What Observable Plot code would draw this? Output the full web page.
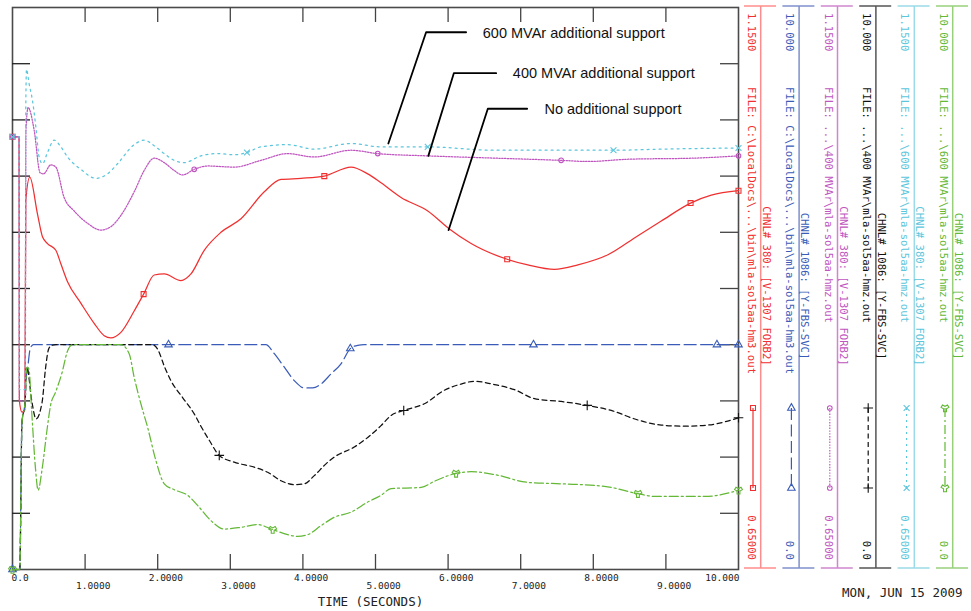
<!DOCTYPE html>
<html><head><meta charset="utf-8">
<script src="https://cdn.jsdelivr.net/npm/d3@7"></script>
<script src="https://cdn.jsdelivr.net/npm/@observablehq/plot@0.6"></script>
<style>body{margin:0;background:#fff}svg{display:block}</style>
</head><body><div id="chart"></div>
<script>
// ---------- DATA (time in seconds, voltage in pu, SVC output on 0..10 scale) ----------
const noSupportVoltage = [[0,1.035],[0.09,1.035],[0.095,0.80],[0.13,0.79],[0.17,0.792],[0.183,0.978],[0.238,0.999],[0.345,0.966],[0.413,0.946],[0.482,0.940],[0.597,0.934],[0.666,0.922],[0.758,0.906],[0.941,0.887],[1.125,0.869],[1.263,0.858],[1.355,0.856],[1.493,0.861],[1.676,0.880],[1.806,0.895],[1.952,0.912],[2.090,0.913],[2.320,0.907],[2.458,0.913],[2.641,0.934],[2.871,0.950],[3.147,0.962],[3.468,0.986],[3.698,0.997],[3.974,0.998],[4.295,1.000],[4.663,1.008],[4.893,1.002],[5.076,0.994],[5.352,0.981],[5.720,0.969],[6.018,0.953],[6.317,0.940],[6.814,0.926],[7.099,0.921],[7.465,0.917],[7.788,0.921],[8.201,0.930],[8.615,0.947],[8.936,0.960],[9.340,0.976],[9.625,0.983],[10,0.987]];
const mvar400Voltage = [[0,1.035],[0.09,1.035],[0.095,0.80],[0.175,0.80],[0.185,1.04],[0.215,1.061],[0.298,1.041],[0.380,1.003],[0.427,1.002],[0.528,1.010],[0.597,1.008],[0.711,0.981],[0.849,0.969],[1.034,0.958],[1.217,0.952],[1.355,0.955],[1.493,0.965],[1.676,0.986],[1.814,1.005],[1.952,1.016],[2.090,1.012],[2.227,1.005],[2.343,1.001],[2.503,1.006],[2.688,1.009],[3.054,1.008],[3.422,1.014],[3.790,1.020],[4.157,1.017],[4.663,1.023],[5.031,1.020],[5.720,1.018],[6.638,1.016],[7.557,1.014],[7.925,1.013],[8.477,1.015],[9.395,1.016],[10,1.018]];
const mvar600Voltage = [[0,1.035],[0.09,1.035],[0.095,0.81],[0.175,0.81],[0.183,1.06],[0.193,1.095],[0.229,1.082],[0.276,1.067],[0.321,1.044],[0.367,1.017],[0.414,1.011],[0.482,1.021],[0.573,1.032],[0.666,1.026],[0.758,1.017],[0.941,1.006],[1.148,0.998],[1.309,1.002],[1.447,1.011],[1.676,1.028],[1.814,1.032],[1.952,1.027],[2.090,1.020],[2.227,1.014],[2.365,1.012],[2.595,1.018],[2.826,1.020],[3.054,1.019],[3.229,1.021],[3.422,1.026],[3.790,1.028],[4.157,1.024],[4.663,1.029],[5.076,1.026],[5.720,1.026],[6.638,1.023],[7.327,1.023],[8.278,1.023],[8.936,1.024],[10,1.025]];
const noSupportSvc = [[0,0],[0.1,0],[0.13,2.6],[0.175,3.0],[0.185,3.4],[0.2,3.5],[0.248,3.95],[0.29,4.0],[3.49,4.0],[3.606,3.84],[3.744,3.60],[3.882,3.36],[4.019,3.23],[4.135,3.23],[4.249,3.30],[4.387,3.48],[4.525,3.66],[4.653,3.93],[4.755,3.99],[4.846,4.0],[10,4.0]];
const mvar400Svc = [[0,0],[0.1,0],[0.13,2.6],[0.175,3.0],[0.19,3.55],[0.2,3.6],[0.265,3.0],[0.325,2.68],[0.408,2.98],[0.455,3.58],[0.50,3.93],[0.546,3.99],[0.6,4.0],[1.93,4.0],[2.0,3.92],[2.09,3.62],[2.182,3.36],[2.343,3.06],[2.503,2.77],[2.595,2.55],[2.710,2.30],[2.848,2.03],[3.054,1.91],[3.330,1.82],[3.515,1.73],[3.698,1.58],[3.882,1.51],[4.019,1.525],[4.157,1.67],[4.318,1.88],[4.433,2.0],[4.708,2.18],[4.893,2.35],[5.076,2.56],[5.214,2.74],[5.389,2.83],[5.674,2.95],[5.949,3.19],[6.179,3.30],[6.363,3.35],[6.638,3.29],[6.914,3.20],[7.190,3.04],[7.557,2.99],[7.916,2.92],[8.247,2.83],[8.615,2.66],[8.936,2.57],[9.257,2.55],[9.580,2.57],[10,2.70]];
const mvar600Svc = [[0,0],[0.1,0],[0.13,2.6],[0.175,3.0],[0.19,3.5],[0.2,3.6],[0.225,3.57],[0.270,2.69],[0.317,1.79],[0.353,1.41],[0.408,1.79],[0.477,2.50],[0.524,2.92],[0.593,3.155],[0.684,3.51],[0.753,3.87],[0.827,4.0],[1.493,4.0],[1.607,3.84],[1.676,3.42],[1.768,2.95],[1.861,2.53],[1.975,1.94],[2.090,1.525],[2.227,1.42],[2.412,1.32],[2.550,1.14],[2.733,0.87],[2.917,0.72],[3.147,0.75],[3.377,0.80],[3.584,0.71],[3.790,0.62],[3.928,0.59],[4.066,0.62],[4.249,0.78],[4.433,0.93],[4.663,1.02],[4.893,1.20],[5.076,1.32],[5.214,1.44],[5.628,1.46],[5.811,1.57],[6.110,1.71],[6.317,1.74],[6.638,1.69],[7.099,1.55],[7.557,1.525],[8.154,1.48],[8.615,1.35],[8.844,1.30],[9.533,1.30],[10,1.41]];

// marker positions along each trace [time, value]
const noSupportVoltageMarks = [[0,1.035],[1.806,0.895],[4.295,1.000],[6.814,0.926],[9.340,0.976],[10,0.987]];
const mvar400VoltageMarks = [[0,1.035],[2.503,1.006],[5.031,1.020],[7.557,1.014],[10,1.018]];
const mvar600VoltageMarks = [[0,1.035],[3.229,1.021],[5.720,1.026],[8.278,1.023],[10,1.025]];
const noSupportSvcMarks = [[0,0],[2.149,4.0],[4.653,3.93],[7.176,4.0],[9.703,4.0],[10,4.0]];
const mvar400SvcMarks = [[2.848,2.03],[5.389,2.83],[7.916,2.92],[10,2.70]];
const mvar600SvcMarks = [[0,0],[3.584,0.71],[6.110,1.71],[8.615,1.35],[10,1.41]];

// axis ticks and labels
const xTickValues = [0,1,2,3,4,5,6,7,8,9,10];
const xTickLabels = ["0.0","1.0000","2.0000","3.0000","4.0000","5.0000","6.0000","7.0000","8.0000","9.0000","10.000"];
const voltTickValues = [0.70,0.75,0.80,0.85,0.90,0.95,1.00,1.05,1.10];

// legend column texts
const legendTop = ["1.1500","10.000","1.1500","10.000","1.1500","10.000"];
const legendBottom = ["0.65000","0.0","0.65000","0.0","0.65000","0.0"];
const legendFile = [
  "FILE: C:\\LocalDocs\\...\\bin\\mla-sol5aa-hm3.out",
  "FILE: C:\\LocalDocs\\...\\bin\\mla-sol5aa-hm3.out",
  "FILE: ...\\400 MVAr\\mla-sol5aa-hmz.out",
  "FILE: ...\\400 MVAr\\mla-sol5aa-hmz.out",
  "FILE: ...\\600 MVAr\\mla-sol5aa-hmz.out",
  "FILE: ...\\600 MVAr\\mla-sol5aa-hmz.out"];
const legendChannel = [
  "CHNL# 380: [V-1307 FORB2]",
  "CHNL# 1086: [Y-FBS-SVC]",
  "CHNL# 380: [V-1307 FORB2]",
  "CHNL# 1086: [Y-FBS-SVC]",
  "CHNL# 380: [V-1307 FORB2]",
  "CHNL# 1086: [Y-FBS-SVC]"];

// annotations: label position (time, value), leader polyline points (time, value)
const annotationLabels = ["600 MVAr additional support","400 MVAr additional support","No additional support"];
const annotationTextPos = [[6.478,1.127],[6.892,1.091],[7.327,1.059]];
const annotationLeaders = [
  [[6.248,1.128],[5.697,1.128],[5.177,1.029]],
  [[6.662,1.0916],[6.079,1.0916],[5.728,1.018]],
  [[7.089,1.0599],[6.547,1.0599],[6.007,0.952]]];

const timeLabel = "TIME (SECONDS)";
const dateLabel = "MON, JUN 15 2009";

// ---------- STYLE ----------
const W = 971, H = 611;
const vMin = 0.65, vMax = 1.15, qMax = 10;
const toV = q => vMin + q * (vMax - vMin) / qMax;   // SVC scale 0..10 shares the frame with 0.65..1.15

const series = [
  {data: noSupportVoltage, marks: noSupportVoltageMarks, svc:false, color:"#f03030", light:"#ff8c8c", dash:null, symbol:"square", r:2.8},
  {data: noSupportSvc, marks: noSupportSvcMarks, svc:true, color:"#3a5cb8", light:"#7f90cc", dash:"12,4.5", symbol:"triangle", r:2.8},
  {data: mvar400Voltage, marks: mvar400VoltageMarks, svc:false, color:"#bf55bf", light:"#cf86cf", dash:"1.4,1.4", symbol:"circle", r:2.3},
  {data: mvar400Svc, marks: mvar400SvcMarks, svc:true, color:"#111111", light:"#555555", dash:"5,3.5", symbol:"plus", r:3.2},
  {data: mvar600Voltage, marks: mvar600VoltageMarks, svc:false, color:"#5cc6dc", light:"#9adbe8", dash:"2,4", symbol:"times", r:2.8},
  {data: mvar600Svc, marks: mvar600SvcMarks, svc:true, color:"#63b836", light:"#98d07a", dash:"9,3,2,3", symbol:"wye", r:3}
];
const yOf = s => d => s.svc ? toV(d[1]) : d[1];

const mono = "DejaVu Sans Mono, Liberation Mono, monospace";
const tickLenX = 0.248, tickLenY = 0.01335;

const marks = [
  Plot.frame({stroke:"#4a4a4a", strokeWidth:1.6}),
  Plot.ruleY(voltTickValues, {x1:0, x2:tickLenX, stroke:"#222", strokeWidth:1.3}),
  Plot.ruleY(voltTickValues, {x1:10 - tickLenX, x2:10, stroke:"#444", strokeWidth:1.3}),
  Plot.ruleX(xTickValues.slice(1, -1), {y1:vMin, y2:vMin + tickLenY, stroke:"#444", strokeWidth:1.3}),
  Plot.ruleX(xTickValues.slice(1, -1), {y1:vMax - tickLenY, y2:vMax, stroke:"#444", strokeWidth:1.3})
];
for (const s of series) {
  marks.push(Plot.line(s.data, {x: d => d[0], y: yOf(s), stroke: s.color, strokeWidth: 1.25,
    strokeDasharray: s.dash || undefined, curve: "monotone-x"}));
  marks.push(Plot.dot(s.marks, {x: d => d[0], y: yOf(s), symbol: s.symbol, r: s.r, stroke: s.color,
    fill: "none", strokeWidth: 1.1}));
}
// annotation leaders + labels
annotationLeaders.forEach(pts => {
  marks.push(Plot.line(pts, {x: d => d[0], y: d => d[1], stroke: "#000", strokeWidth: 1.8}));
});
marks.push(Plot.text(annotationLabels, {x: (d,i) => annotationTextPos[i][0], y: (d,i) => annotationTextPos[i][1],
  text: d => d, textAnchor: "start", fontSize: 14.5, fontFamily: "Liberation Sans, Arial, sans-serif", fill: "#111"}));

// x tick labels (two staggered rows, decimal point roughly under the tick)
const xl = xTickValues.map((v, i) => ({v, label: xTickLabels[i], i}));
const tickTextOpts = {x: "v", y: () => vMin, text: "label", fontFamily: mono, fontSize: 9.5, fill: "#222", ariaLabel: "xticklabel"};
marks.push(Plot.text(xl.filter(d => d.i === 0), {...tickTextOpts, textAnchor: "start", dx: -1, dy: 8}));
marks.push(Plot.text(xl.filter(d => d.i > 0 && d.i < 10 && d.i % 2 === 0), {...tickTextOpts, textAnchor: "start", dx: -9, dy: 8}));
marks.push(Plot.text(xl.filter(d => d.i % 2 === 1), {...tickTextOpts, textAnchor: "start", dx: -9, dy: 16.5}));
marks.push(Plot.text(xl.filter(d => d.i === 10), {...tickTextOpts, textAnchor: "end", dx: 1, dy: 8}));
marks.push(Plot.text([timeLabel], {frameAnchor: "bottom", text: d => d, dx: -5, dy: 36, fontFamily: mono, fontSize: 12.5, fill: "#222", ariaLabel: "bigmono"}));
marks.push(Plot.text([dateLabel], {frameAnchor: "bottom-right", text: d => d, textAnchor: "end", dx: 224, dy: 27, fontFamily: mono, fontSize: 12.5, fill: "#222", ariaLabel: "bigmono"}));

const svg = Plot.plot({
  width: W, height: H,
  marginLeft: 12, marginRight: 233, marginTop: 7, marginBottom: 42,
  x: {domain: [0, 10], axis: null},
  y: {domain: [vMin, vMax], axis: null},
  style: {background: "#fff", overflow: "visible"},
  marks
});

const root = d3.select(svg);
root.selectAll('g[aria-label="xticklabel"] text').style("letter-spacing", "1.6px");
root.selectAll('g[aria-label="bigmono"] text').style("letter-spacing", "2.6px");

// ---------- right-hand channel legend ----------
const legendLeft = 744, legendStep = 38.4, legendTopY = 6, legendBottomY = 568;
const lg = root.append("g").attr("font-family", mono).attr("font-size", 10.6);
const symMap = {square: d3.symbolSquare, triangle: d3.symbolTriangle, circle: d3.symbolCircle,
  plus: d3.symbolPlus, times: d3.symbolTimes, wye: d3.symbolWye};
series.forEach((s, i) => {
  const L = legendLeft + i * legendStep;
  const vx = L + 16.7, tx = L + 7.7, cx = L + 22.7, sx = L + 9;
  lg.append("line").attr("x1", L).attr("x2", L + 32).attr("y1", legendTopY).attr("y2", legendTopY)
    .attr("stroke", s.light).attr("stroke-width", 1.5);
  lg.append("line").attr("x1", L).attr("x2", L + 32).attr("y1", legendBottomY).attr("y2", legendBottomY)
    .attr("stroke", s.light).attr("stroke-width", 1.5);
  lg.append("line").attr("x1", vx).attr("x2", vx).attr("y1", legendTopY).attr("y2", legendBottomY)
    .attr("stroke", s.light).attr("stroke-width", 1.5);
  const rot = (x, y, txt, anchor) => lg.append("text").attr("transform", `translate(${x - 3.9},${y}) rotate(90)`)
    .attr("text-anchor", anchor).attr("fill", s.color).text(txt);
  rot(tx, 13, legendTop[i], "start");
  rot(tx, 87, legendFile[i], "start");
  rot(cx, 286, legendChannel[i], "middle");
  rot(tx, 560, legendBottom[i], "end");
  // sample line with markers
  lg.append("line").attr("x1", sx).attr("x2", sx).attr("y1", 408).attr("y2", 488)
    .attr("stroke", s.color).attr("stroke-width", 1.2).attr("stroke-dasharray", s.dash || null);
  const path = d3.symbol(symMap[s.symbol], Math.PI * s.r * s.r)();
  [408, 488].forEach(y => lg.append("path").attr("d", path).attr("transform", `translate(${sx},${y})`)
    .attr("fill", "none").attr("stroke", s.color).attr("stroke-width", 1.1));
});

document.getElementById("chart").appendChild(svg);
</script>
</body></html>
